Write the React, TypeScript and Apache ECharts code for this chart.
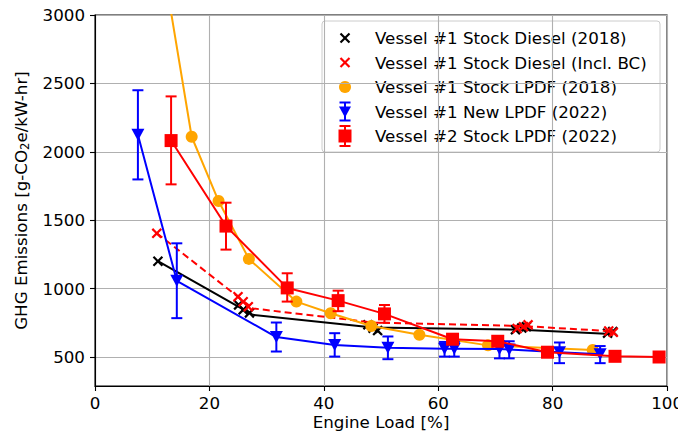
import React, { useEffect, useRef } from "react";
import * as echarts from "echarts";

// Legend entries
const seriesNames = [
  "Vessel #1 Stock Diesel (2018)",
  "Vessel #1 Stock Diesel (Incl. BC)",
  "Vessel #1 Stock LPDF (2018)",
  "Vessel #1 New LPDF (2022)",
  "Vessel #2 Stock LPDF (2022)",
];

// Axis ticks
const xTicks = [0, 20, 40, 60, 80, 100];
const yTicks = [500, 1000, 1500, 2000, 2500, 3000];

// Vessel #1 stock diesel (2018): trend line and individual test points
const dieselLineLoad = [11.0, 27.6, 48.6, 74.5, 90.2];
const dieselLineGhg = [1200, 808, 715, 700, 668];
const dieselLoad = [11.0, 25.1, 25.9, 27.0, 47.7, 48.6, 49.4, 73.5, 74.6, 75.4, 89.6, 90.5];
const dieselGhg = [1200, 881, 845, 822, 735, 711, 693, 700, 712, 722, 674, 686];

// Vessel #1 stock diesel including black carbon
const dieselBcLineLoad = [10.8, 27.6, 48.6, 74.5, 90.5];
const dieselBcLineGhg = [1405, 855, 752, 727, 688];
const dieselBcLoad = [10.8, 25.0, 25.9, 26.8, 73.8, 74.9, 75.7, 89.8, 90.6];
const dieselBcGhg = [1404, 941, 904, 868, 708, 722, 735, 690, 680];

// Vessel #1 stock LPDF (2018)
const lpdf2018Load = [10.6, 16.9, 21.6, 26.9, 35.2, 41.2, 48.3, 56.7, 68.7, 87.0];
const lpdf2018Ghg = [3700, 2110, 1640, 1217, 905, 820, 727, 662, 585, 552];

// Vessel #1 new LPDF (2022) with error ranges
const newLpdfLoad = [7.5, 14.3, 31.7, 41.9, 51.2, 61.1, 62.8, 70.7, 72.4, 81.2, 88.3];
const newLpdfGhg = [2124, 1057, 646, 588, 567, 560, 560, 558, 555, 535, 520];
const newLpdfLow = [1798, 784, 540, 503, 484, 503, 503, 490, 490, 455, 455];
const newLpdfHigh = [2450, 1331, 752, 674, 650, 610, 610, 615, 615, 606, 580];

// Vessel #2 stock LPDF (2022) with error ranges
const v2LpdfLoad = [13.3, 22.9, 33.6, 42.5, 50.6, 62.5, 70.4, 79.1, 90.9, 98.6];
const v2LpdfGhg = [2082, 1457, 1005, 912, 815, 630, 615, 535, 505, 500];
const v2LpdfLow = [1762, 1285, 905, 835, 750, 605, 590, 520, 495, 490];
const v2LpdfHigh = [2405, 1628, 1112, 985, 880, 655, 640, 550, 515, 510];

const BLACK = "#000000";
const RED = "#ff0000";
const ORANGE = "#ffa500";
const BLUE = "#0000ff";
const FONT = "DejaVu Sans";
const FS = 16.7;

// filled "x" glyph used as scatter marker
const X_PATH =
  "path://M0,1.5L1.5,0L5,3.5L8.5,0L10,1.5L6.5,5L10,8.5L8.5,10L5,6.5L1.5,10L0,8.5L3.5,5Z";

const pairs = (xs: number[], ys: number[]) => xs.map((x, i) => [x, ys[i]]);
const triples = (xs: number[], lo: number[], hi: number[]) =>
  xs.map((x, i) => [x, lo[i], hi[i]]);

function errorBars(color: string) {
  return (params: any, api: any) => {
    const x = api.value(0);
    const top = api.coord([x, api.value(2)]);
    const bot = api.coord([x, api.value(1)]);
    const cw = 5.5;
    const style = { stroke: color, lineWidth: 2 };
    return {
      type: "group",
      children: [
        { type: "line", shape: { x1: top[0], y1: top[1], x2: bot[0], y2: bot[1] }, style },
        { type: "line", shape: { x1: top[0] - cw, y1: top[1], x2: top[0] + cw, y2: top[1] }, style },
        { type: "line", shape: { x1: bot[0] - cw, y1: bot[1], x2: bot[0] + cw, y2: bot[1] }, style },
      ],
    };
  };
}

function legendGraphic() {
  const left = 322;
  const top = 21;
  const rowY = [38, 62.5, 87, 111.5, 136];
  const mx = 345;
  const tx = 375;
  const children: any[] = [
    {
      type: "rect",
      shape: { x: left, y: top, width: 338, height: 131, r: 3 },
      style: { fill: "rgba(255,255,255,0.8)", stroke: "#cccccc", lineWidth: 1 },
    },
  ];
  const xMark = (cy: number, color: string) => {
    const h = 4.5;
    const st = { stroke: color, lineWidth: 2.2 };
    children.push({ type: "line", shape: { x1: mx - h, y1: cy - h, x2: mx + h, y2: cy + h }, style: st });
    children.push({ type: "line", shape: { x1: mx - h, y1: cy + h, x2: mx + h, y2: cy - h }, style: st });
  };
  const bar = (cy: number, color: string, half: number) => {
    const st = { stroke: color, lineWidth: 2 };
    children.push({ type: "line", shape: { x1: mx, y1: cy - half, x2: mx, y2: cy + half }, style: st });
    children.push({ type: "line", shape: { x1: mx - 5.5, y1: cy - half, x2: mx + 5.5, y2: cy - half }, style: st });
    children.push({ type: "line", shape: { x1: mx - 5.5, y1: cy + half, x2: mx + 5.5, y2: cy + half }, style: st });
  };
  xMark(rowY[0], BLACK);
  xMark(rowY[1], RED);
  children.push({ type: "circle", shape: { cx: mx, cy: rowY[2], r: 6 }, style: { fill: ORANGE } });
  bar(rowY[3], BLUE, 9);
  children.push({
    type: "polygon",
    shape: { points: [[mx - 6, rowY[3] - 5], [mx + 6, rowY[3] - 5], [mx, rowY[3] + 6]] },
    style: { fill: BLUE },
  });
  bar(rowY[4], RED, 10);
  children.push({
    type: "rect",
    shape: { x: mx - 6.5, y: rowY[4] - 6.5, width: 13, height: 13 },
    style: { fill: RED },
  });
  seriesNames.forEach((name, i) => {
    children.push({
      type: "text",
      x: tx,
      y: rowY[i],
      style: {
        text: name,
        font: `${FS}px "${FONT}"`,
        fill: "#000",
        verticalAlign: "middle",
        align: "left",
      },
    });
  });
  return { type: "group", z: 100, children };
}

export default function App() {
  const ref = useRef<HTMLDivElement>(null);

  useEffect(() => {
    if (!ref.current) return;
    const chart = echarts.init(ref.current, undefined, { renderer: "svg" });

    const axisText = { fontFamily: FONT, fontSize: FS, color: "#000" };

    chart.setOption({
      animation: false,
      backgroundColor: "#ffffff",
      grid: {
        left: 95,
        top: 15,
        right: 18,
        bottom: 53,
        show: true,
        borderColor: "#000",
        borderWidth: 1.1,
        backgroundColor: "transparent",
      },
      xAxis: {
        type: "value",
        min: xTicks[0],
        max: xTicks[xTicks.length - 1],
        interval: 20,
        name: "Engine Load [%]",
        nameLocation: "middle",
        nameGap: 27,
        nameMoveOverlap: false,
        nameTextStyle: axisText,
        axisLine: { show: true, lineStyle: { color: "#000", width: 1.1 } },
        axisTick: { show: true, length: 5, lineStyle: { color: "#000", width: 1.1 } },
        axisLabel: {
          ...axisText,
          margin: 8,
          showMaxLabel: true,
          showMinLabel: true,
          formatter: (v: number) => String(v),
        },
        splitLine: { show: true, lineStyle: { color: "#b0b0b0", width: 1.1 } },
      },
      yAxis: {
        type: "value",
        min: 288,
        max: 3000,
        name: "{a|GHG Emissions [g-CO}{s|2}{a|e/kW-hr]}",
        nameLocation: "middle",
        nameGap: 64,
        nameMoveOverlap: false,
        nameTextStyle: {
          ...axisText,
          rich: {
            a: { fontFamily: FONT, fontSize: FS, color: "#000" },
            s: { fontFamily: FONT, fontSize: 11.7, color: "#000", padding: [8, 0, 0, 0] },
          },
        },
        axisLine: { show: true, lineStyle: { color: "#000", width: 1.1 } },
        axisTick: {
          show: true,
          length: 5,
          customValues: yTicks,
          lineStyle: { color: "#000", width: 1.1 },
        },
        axisLabel: {
          ...axisText,
          margin: 10,
          customValues: yTicks,
          formatter: (v: number) => String(v),
        },
        splitLine: { show: true, lineStyle: { color: "#b0b0b0", width: 1.1 } },
      },
      graphic: [legendGraphic()],
      series: [
        {
          name: seriesNames[0] + " trend",
          type: "line",
          data: pairs(dieselLineLoad, dieselLineGhg),
          showSymbol: false,
          lineStyle: { color: BLACK, width: 2 },
          itemStyle: { color: BLACK },
          z: 2,
        },
        {
          name: seriesNames[0],
          type: "scatter",
          data: pairs(dieselLoad, dieselGhg),
          symbol: X_PATH,
          symbolSize: 10.5,
          itemStyle: { color: BLACK, opacity: 1 },
          z: 3,
        },
        {
          name: seriesNames[1] + " trend",
          type: "line",
          data: pairs(dieselBcLineLoad, dieselBcLineGhg),
          showSymbol: false,
          lineStyle: { color: RED, width: 2, type: [7, 4] },
          itemStyle: { color: RED },
          z: 4,
        },
        {
          name: seriesNames[1],
          type: "scatter",
          data: pairs(dieselBcLoad, dieselBcGhg),
          symbol: X_PATH,
          symbolSize: 10.5,
          itemStyle: { color: RED, opacity: 1 },
          z: 5,
        },
        {
          name: seriesNames[2],
          type: "line",
          data: pairs(lpdf2018Load, lpdf2018Ghg),
          symbol: "circle",
          symbolSize: 12,
          showAllSymbol: true,
          lineStyle: { color: ORANGE, width: 2 },
          itemStyle: { color: ORANGE, borderWidth: 0 },
          clip: true,
          z: 6,
        },
        {
          name: seriesNames[3] + " error",
          type: "custom",
          data: triples(newLpdfLoad, newLpdfLow, newLpdfHigh),
          encode: { x: 0, y: [1, 2] },
          renderItem: errorBars(BLUE),
          clip: true,
          z: 7,
        },
        {
          name: seriesNames[3],
          type: "line",
          data: pairs(newLpdfLoad, newLpdfGhg),
          symbol: "triangle",
          symbolRotate: 180,
          symbolSize: [13, 12],
          showAllSymbol: true,
          lineStyle: { color: BLUE, width: 2 },
          itemStyle: { color: BLUE, borderWidth: 0 },
          z: 7,
        },
        {
          name: seriesNames[4] + " error",
          type: "custom",
          data: triples(v2LpdfLoad, v2LpdfLow, v2LpdfHigh),
          encode: { x: 0, y: [1, 2] },
          renderItem: errorBars(RED),
          clip: true,
          z: 8,
        },
        {
          name: seriesNames[4],
          type: "line",
          data: pairs(v2LpdfLoad, v2LpdfGhg),
          symbol: "rect",
          symbolSize: 13,
          showAllSymbol: true,
          lineStyle: { color: RED, width: 2 },
          itemStyle: { color: RED, borderWidth: 0 },
          z: 8,
        },
      ],
    });

    return () => chart.dispose();
  }, []);

  return <div ref={ref} style={{ width: 686, height: 439, margin: -8 }} />;
}
